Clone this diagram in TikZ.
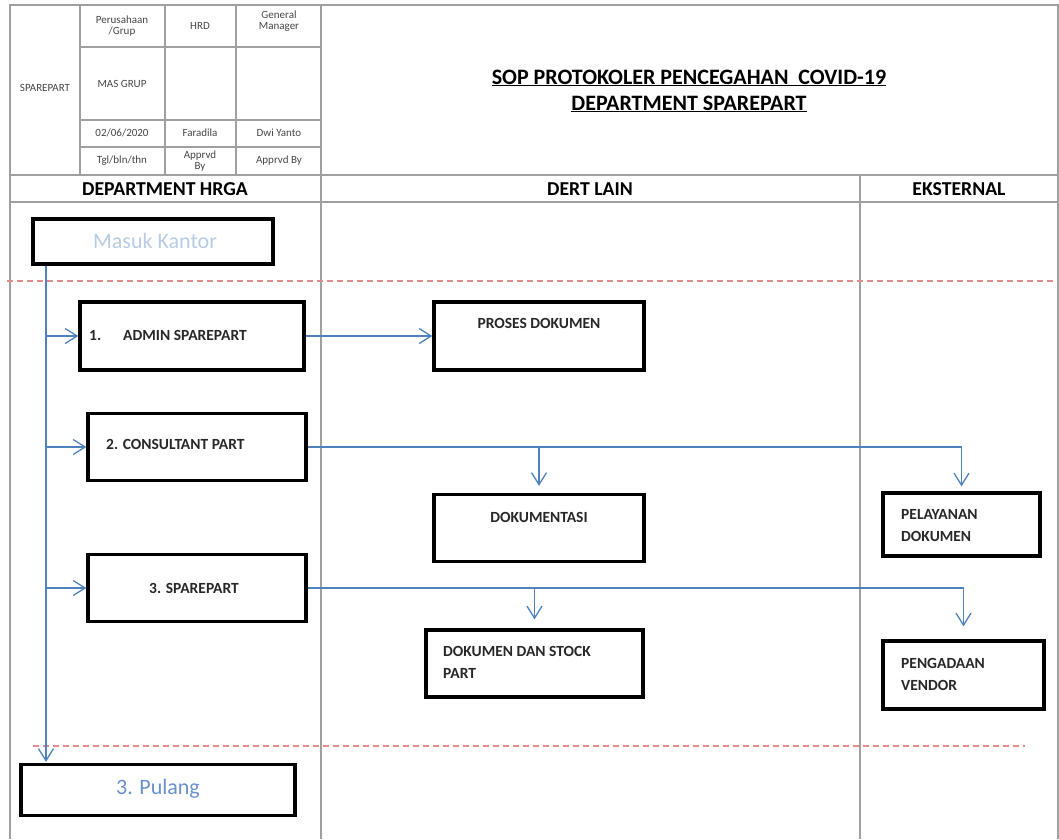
\documentclass[tikz,border=0pt]{standalone}
\usepackage{fontspec}
\setmainfont{Carlito}
\usetikzlibrary{arrows.meta}
\definecolor{gridgray}{RGB}{160,160,160}
\definecolor{flowblue}{RGB}{79,129,189}
\definecolor{dashred}{RGB}{226,140,140}
\definecolor{lightblue}{RGB}{184,204,230}
\definecolor{midblue}{RGB}{105,145,205}
\definecolor{boxtext}{RGB}{40,40,40}
\definecolor{celltext}{RGB}{70,70,70}
\newcommand{\fs}[1]{\fontsize{#1}{#1}\selectfont}
\newcommand{\fsl}[2]{\fontsize{#1}{#2}\selectfont}
\tikzset{
  grid/.style={draw=gridgray, line width=1.6pt},
  stepbox/.style={draw=black, line width=3.3pt, fill=white, inner sep=0pt},
  cell/.style={font=\fs{11}, text=celltext, align=center, inner sep=0pt},
  lanehead/.style={font=\bfseries\fs{19.7}, inner sep=0pt},
  boxlabel/.style={font=\bfseries\fs{15.5}, text=boxtext, inner sep=0pt, align=left},
  twoline/.style={font=\bfseries\fsl{15.5}{22}},
  flow/.style={draw=flowblue, line width=1.3pt, -{Straight Barb[length=12pt,width=15pt,line width=1.3pt]}},
  phase/.style={draw=dashred, line width=1.5pt, dash pattern=on 6pt off 4pt}
}
\begin{document}
\begin{tikzpicture}[x=1pt,y=-1pt]
\useasboundingbox (0,0) rectangle (1059,839);

% outer frame and lane dividers
\draw[grid] (10,839) -- (10,5) -- (1058,5) -- (1058,839);
\draw[grid] (10,175) -- (1058,175);
\draw[grid] (10,202) -- (1058,202);
\draw[grid] (321,5) -- (321,839);
\draw[grid] (860,175) -- (860,839);

% document control table
\draw[grid] (80,5) -- (80,175);
\draw[grid] (165,5) -- (165,175);
\draw[grid] (236,5) -- (236,175);
\draw[grid] (80,47) -- (321,47);
\draw[grid] (80,120) -- (321,120);
\draw[grid] (80,147) -- (321,147);

\node[cell] (c-dept) at (45,88) {SPAREPART};
\node[cell] (c-co) at (122,26) {Perusahaan\\/Grup};
\node[cell] (c-hrd) at (200,26) {HRD};
\node[cell] (c-gm) at (279,21) {General\\Manager};
\node[cell] (c-mas) at (122,84) {MAS GRUP};
\node[cell] (c-date) at (122,133) {02/06/2020};
\node[cell] (c-fara) at (200,133) {Faradila};
\node[cell] (c-dwi) at (279,133) {Dwi Yanto};
\node[cell] (c-tgl) at (122,161) {Tgl/bln/thn};
\node[cell] (c-ap1) at (200,161) {Apprvd\\By};
\node[cell] (c-ap2) at (279,161) {Apprvd By};

% title
\node[font=\bfseries\fs{22}, inner sep=0pt] (title1) at (689,78) {\underline{SOP PROTOKOLER PENCEGAHAN\ \ COVID-19}};
\node[font=\bfseries\fs{22}, inner sep=0pt] (title2) at (689,104) {\underline{DEPARTMENT SPAREPART}};

% lane headings
\node[lanehead] (h-hrga) at (165,189) {DEPARTMENT HRGA};
\node[lanehead] (h-lain) at (590,189) {DERT LAIN};
\node[lanehead] (h-eks) at (959,189) {EKSTERNAL};

% phase separators
\draw[phase] (7,281) -- (1056,281);
\draw[phase] (33,746) -- (1025,746);

% process boxes
\node[stepbox, minimum width=240pt, minimum height=45pt] (masuk) at (153,241.5) {};
\node[font=\fs{22}, text=lightblue, inner sep=0pt] (masuk-t) at (155,241) {Masuk Kantor};

\node[stepbox, minimum width=224pt, minimum height=68pt] (admin) at (192,336) {};
\node[boxlabel, anchor=west] (admin-t) at (89,335) {1.\hspace{22pt}ADMIN SPAREPART};

\node[stepbox, minimum width=218pt, minimum height=67pt] (cons) at (197,447) {};
\node[boxlabel, anchor=west] (cons-t) at (106,444) {2. CONSULTANT PART};

\node[stepbox, minimum width=218pt, minimum height=67pt] (spare) at (197,588) {};
\node[boxlabel] (spare-t) at (194,588) {3. SPAREPART};

\node[stepbox, minimum width=274pt, minimum height=51pt] (pulang) at (158,790) {};
\node[font=\fs{22}, text=midblue, inner sep=0pt] (pulang-t) at (158,789) {3. Pulang};

\node[stepbox, minimum width=210pt, minimum height=68pt] (proses) at (539,336) {};
\node[boxlabel] (proses-t) at (539,323) {PROSES DOKUMEN};

\node[stepbox, minimum width=210pt, minimum height=67pt] (dokum) at (539,528) {};
\node[boxlabel] (dokum-t) at (539,517) {DOKUMENTASI};

\node[stepbox, minimum width=217pt, minimum height=67pt] (stock) at (534.5,663.5) {};
\node[boxlabel, twoline, anchor=west] (stock-t) at (443,662) {DOKUMEN DAN STOCK\\PART};

\node[stepbox, minimum width=157pt, minimum height=63pt] (layan) at (961.5,524.5) {};
\node[boxlabel, twoline, anchor=west] (layan-t) at (901,526) {PELAYANAN\\DOKUMEN};

\node[stepbox, minimum width=161pt, minimum height=68pt] (vendor) at (963.5,675) {};
\node[boxlabel, twoline, anchor=west] (vendor-t) at (901,674) {PENGADAAN\\VENDOR};

% flow connectors
\coordinate (trunk) at (46,0);
\draw[flow, shorten >=1pt] (masuk.south -| trunk) -- (pulang.north -| trunk);
\draw[flow] (admin.west -| trunk) -- (admin.west);
\draw[flow] (cons.west -| trunk) -- (cons.west);
\draw[flow] (spare.west -| trunk) -- (spare.west);

\draw[flow] (admin.east) -- (proses.west);

\draw[flow, shorten >=5pt] (cons.east) -| (layan.north);
\draw[flow, shorten >=7pt] (cons.east -| dokum.north) -- (dokum.north);

\draw[flow, shorten >=13pt] (spare.east) -| (vendor.north);
\draw[flow, shorten >=9pt] (spare.east -| stock.north) -- (stock.north);
\end{tikzpicture}
\end{document}
